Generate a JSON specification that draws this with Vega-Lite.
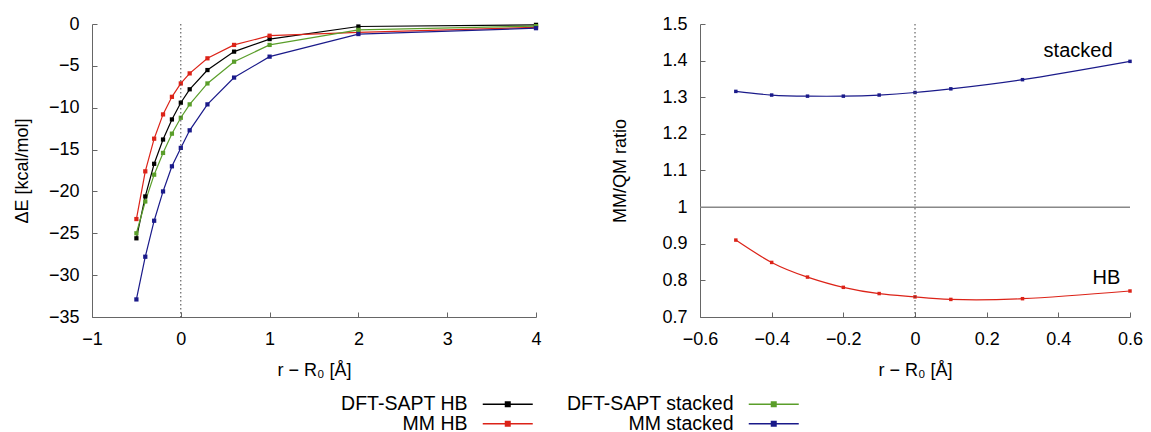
{
  "$schema": "https://vega.github.io/schema/vega-lite/v6.json",
  "background": "white",
  "padding": {"left": 13, "top": 15, "right": 2, "bottom": 2},
  "bounds": "flush",
  "spacing": 164,
  "config": {
    "font": "Liberation Sans",
    "view": {"stroke": null},
    "axis": {
      "labelFont": "Liberation Sans", "labelFontSize": 18, "labelColor": "#000",
      "titleFont": "Liberation Sans", "titleFontSize": 18, "titleFontWeight": "normal", "titleColor": "#000",
      "domainColor": "#666", "tickColor": "#666", "grid": false,
      "tickSize": -5, "labelPadding": 18, "labelOverlap": false, "labelFlush": false, "labelSeparation": 0
    },
    "axisQuantitative": {"labelOverlap": false},
    "legend": {"labelFont": "Liberation Sans", "labelFontSize": 19.5, "labelColor": "#000"}
  },
  "datasets": {
    "energy": [
      {"r": -0.5, "dE": -25.6, "series": "DFT-SAPT HB"},
      {"r": -0.4, "dE": -20.6, "series": "DFT-SAPT HB"},
      {"r": -0.3, "dE": -16.7, "series": "DFT-SAPT HB"},
      {"r": -0.2, "dE": -13.8, "series": "DFT-SAPT HB"},
      {"r": -0.1, "dE": -11.4, "series": "DFT-SAPT HB"},
      {"r": 0.0, "dE": -9.4, "series": "DFT-SAPT HB"},
      {"r": 0.1, "dE": -7.8, "series": "DFT-SAPT HB"},
      {"r": 0.3, "dE": -5.5, "series": "DFT-SAPT HB"},
      {"r": 0.6, "dE": -3.3, "series": "DFT-SAPT HB"},
      {"r": 1.0, "dE": -1.8, "series": "DFT-SAPT HB"},
      {"r": 2.0, "dE": -0.3, "series": "DFT-SAPT HB"},
      {"r": 4.0, "dE": -0.1, "series": "DFT-SAPT HB"},
      {"r": -0.5, "dE": -23.3, "series": "MM HB"},
      {"r": -0.4, "dE": -17.6, "series": "MM HB"},
      {"r": -0.3, "dE": -13.7, "series": "MM HB"},
      {"r": -0.2, "dE": -10.8, "series": "MM HB"},
      {"r": -0.1, "dE": -8.7, "series": "MM HB"},
      {"r": 0.0, "dE": -7.1, "series": "MM HB"},
      {"r": 0.1, "dE": -5.9, "series": "MM HB"},
      {"r": 0.3, "dE": -4.1, "series": "MM HB"},
      {"r": 0.6, "dE": -2.5, "series": "MM HB"},
      {"r": 1.0, "dE": -1.4, "series": "MM HB"},
      {"r": 2.0, "dE": -1.0, "series": "MM HB"},
      {"r": 4.0, "dE": -0.4, "series": "MM HB"},
      {"r": -0.5, "dE": -25.0, "series": "DFT-SAPT stacked"},
      {"r": -0.4, "dE": -21.2, "series": "DFT-SAPT stacked"},
      {"r": -0.3, "dE": -18.0, "series": "DFT-SAPT stacked"},
      {"r": -0.2, "dE": -15.4, "series": "DFT-SAPT stacked"},
      {"r": -0.1, "dE": -13.1, "series": "DFT-SAPT stacked"},
      {"r": 0.0, "dE": -11.2, "series": "DFT-SAPT stacked"},
      {"r": 0.1, "dE": -9.6, "series": "DFT-SAPT stacked"},
      {"r": 0.3, "dE": -7.1, "series": "DFT-SAPT stacked"},
      {"r": 0.6, "dE": -4.5, "series": "DFT-SAPT stacked"},
      {"r": 1.0, "dE": -2.5, "series": "DFT-SAPT stacked"},
      {"r": 2.0, "dE": -0.7, "series": "DFT-SAPT stacked"},
      {"r": 4.0, "dE": -0.25, "series": "DFT-SAPT stacked"},
      {"r": -0.5, "dE": -32.9, "series": "MM stacked"},
      {"r": -0.4, "dE": -27.8, "series": "MM stacked"},
      {"r": -0.3, "dE": -23.5, "series": "MM stacked"},
      {"r": -0.2, "dE": -20.0, "series": "MM stacked"},
      {"r": -0.1, "dE": -17.0, "series": "MM stacked"},
      {"r": 0.0, "dE": -14.8, "series": "MM stacked"},
      {"r": 0.1, "dE": -12.7, "series": "MM stacked"},
      {"r": 0.3, "dE": -9.6, "series": "MM stacked"},
      {"r": 0.6, "dE": -6.4, "series": "MM stacked"},
      {"r": 1.0, "dE": -3.9, "series": "MM stacked"},
      {"r": 2.0, "dE": -1.2, "series": "MM stacked"},
      {"r": 4.0, "dE": -0.5, "series": "MM stacked"}
    ],
    "ratio": [
      {"r": -0.5, "ratio": 0.910, "series": "MM HB"},
      {"r": -0.4, "ratio": 0.849, "series": "MM HB"},
      {"r": -0.3, "ratio": 0.809, "series": "MM HB"},
      {"r": -0.2, "ratio": 0.781, "series": "MM HB"},
      {"r": -0.1, "ratio": 0.764, "series": "MM HB"},
      {"r": 0.0, "ratio": 0.755, "series": "MM HB"},
      {"r": 0.1, "ratio": 0.748, "series": "MM HB"},
      {"r": 0.3, "ratio": 0.750, "series": "MM HB"},
      {"r": 0.6, "ratio": 0.771, "series": "MM HB"},
      {"r": -0.5, "ratio": 1.316, "series": "MM stacked"},
      {"r": -0.4, "ratio": 1.306, "series": "MM stacked"},
      {"r": -0.3, "ratio": 1.303, "series": "MM stacked"},
      {"r": -0.2, "ratio": 1.303, "series": "MM stacked"},
      {"r": -0.1, "ratio": 1.306, "series": "MM stacked"},
      {"r": 0.0, "ratio": 1.313, "series": "MM stacked"},
      {"r": 0.1, "ratio": 1.323, "series": "MM stacked"},
      {"r": 0.3, "ratio": 1.348, "series": "MM stacked"},
      {"r": 0.6, "ratio": 1.398, "series": "MM stacked"}
    ],
    "notes": [
      {"r": 0.455, "ratio": 1.427, "label": "stacked"},
      {"r": 0.534, "ratio": 0.807, "label": "HB"}
    ],
    "zeroline": [{"r": 0}],
    "unity": [{"ratio": 1}]
  },
  "hconcat": [
    {
      "width": 444,
      "height": 293,
      "layer": [
        {
          "data": {"name": "energy"},
          "mark": {"type": "line", "strokeWidth": 1.2},
          "encoding": {
            "x": {"field": "r", "type": "quantitative", "scale": {"domain": [-1, 4], "zero": false, "nice": false},
                  "axis": {"values": [-1, 0, 1, 2, 3, 4], "format": "~g", "labelOverlap": false, "title": "r − R₀ [Å]", "minExtent": 32, "maxExtent": 32, "titlePadding": 12}},
            "y": {"field": "dE", "type": "quantitative", "scale": {"domain": [-35, 0], "zero": false, "nice": false},
                  "axis": {"values": [-35, -30, -25, -20, -15, -10, -5, 0], "format": "~g", "labelOverlap": false, "title": "ΔE [kcal/mol]", "minExtent": 50, "maxExtent": 50, "titlePadding": 11}},
            "color": {"field": "series", "type": "nominal",
                      "scale": {"domain": ["DFT-SAPT HB", "DFT-SAPT stacked", "MM HB", "MM stacked"],
                                "range": ["#000000", "#5a9e2a", "#dc2318", "#1a1a8a"]},
                      "legend": {"orient": "none", "legendX": 406, "legendY": 370, "columns": 2, "direction": "horizontal", "title": null,
                                 "symbolType": "M-5,0H5M-0.45,-0.45H0.45V0.45H-0.45Z", "symbolSize": 100,
                                 "symbolStrokeWidth": 1.5, "columnPadding": 30, "rowPadding": -5,
                                 "labelAlign": "right", "labelOffset": -50, "labelLimit": 400}}
          }
        },
        {
          "data": {"name": "energy"},
          "mark": {"type": "point", "shape": "square", "filled": true, "size": 18, "opacity": 1},
          "encoding": {
            "x": {"field": "r", "type": "quantitative"},
            "y": {"field": "dE", "type": "quantitative"},
            "color": {"field": "series", "type": "nominal"}
          }
        },
        {
          "data": {"name": "zeroline"},
          "mark": {"type": "rule", "color": "#444", "strokeDash": [1.5, 2.5], "strokeWidth": 1},
          "encoding": {"x": {"field": "r", "type": "quantitative"}}
        }
      ]
    },
    {
      "width": 430,
      "height": 293,
      "layer": [
        {
          "data": {"name": "ratio"},
          "mark": {"type": "line", "strokeWidth": 1.2, "interpolate": "natural"},
          "encoding": {
            "x": {"field": "r", "type": "quantitative", "scale": {"domain": [-0.6, 0.6], "zero": false, "nice": false},
                  "axis": {"values": [-0.6, -0.4, -0.2, 0, 0.2, 0.4, 0.6], "format": "~g", "labelOverlap": false, "title": "r − R₀ [Å]", "minExtent": 32, "maxExtent": 32, "titlePadding": 12}},
            "y": {"field": "ratio", "type": "quantitative", "scale": {"domain": [0.7, 1.5], "zero": false, "nice": false},
                  "axis": {"tickCount": 8, "format": "~g", "labelOverlap": false, "title": "MM/QM ratio", "minExtent": 60, "maxExtent": 60, "titlePadding": 11}},
            "color": {"field": "series", "type": "nominal"}
          }
        },
        {
          "data": {"name": "ratio"},
          "mark": {"type": "point", "shape": "square", "filled": true, "size": 12, "opacity": 1},
          "encoding": {
            "x": {"field": "r", "type": "quantitative"},
            "y": {"field": "ratio", "type": "quantitative"},
            "color": {"field": "series", "type": "nominal"}
          }
        },
        {
          "data": {"name": "zeroline"},
          "mark": {"type": "rule", "color": "#444", "strokeDash": [1.5, 2.5], "strokeWidth": 1},
          "encoding": {"x": {"field": "r", "type": "quantitative"}}
        },
        {
          "data": {"name": "unity"},
          "mark": {"type": "rule", "color": "#888", "strokeWidth": 1.5},
          "encoding": {"y": {"field": "ratio", "type": "quantitative"}}
        },
        {
          "data": {"name": "notes"},
          "mark": {"type": "text", "fontSize": 20, "font": "Liberation Sans", "color": "#000"},
          "encoding": {
            "x": {"field": "r", "type": "quantitative"},
            "y": {"field": "ratio", "type": "quantitative"},
            "text": {"field": "label"}
          }
        }
      ]
    }
  ]
}
